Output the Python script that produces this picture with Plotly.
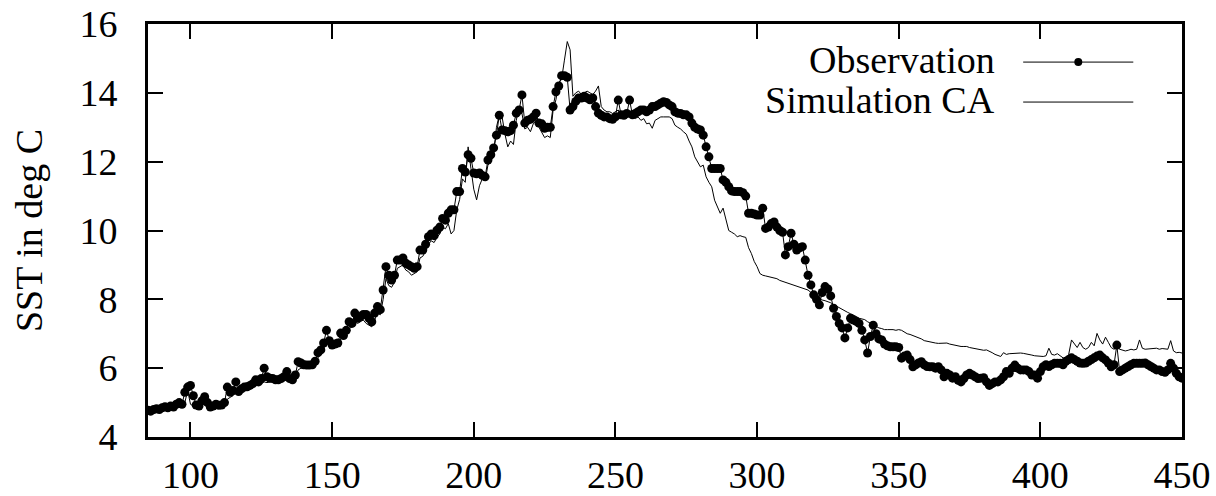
import plotly.graph_objects as go

# Day of year
days = list(range(85, 451))

# Observed SST (deg C), one value per day 85..450
obs_sst = [
    4.78, 4.75, 4.8, 4.82, 4.8, 4.85, 4.88, 4.85, 4.9, 4.87,
    4.95, 5.0, 4.95, 5.3, 5.45, 5.5, 5.2, 4.93, 4.9, 5.05,
    5.17, 5.0, 4.87, 4.9, 4.95, 4.92, 4.93, 5.0, 5.45, 5.3,
    5.35, 5.6, 5.32, 5.4, 5.45, 5.46, 5.5, 5.55, 5.66, 5.6,
    5.7, 6.0, 5.75, 5.71, 5.7, 5.66, 5.66, 5.7, 5.75, 5.9,
    5.7, 5.66, 5.8, 6.19, 6.15, 6.1, 6.09, 6.09, 6.1, 6.2,
    6.45, 6.53, 6.73, 7.1, 6.8, 6.67, 6.7, 6.73, 7.02, 6.95,
    7.1, 7.35, 7.3, 7.6, 7.45, 7.5, 7.56, 7.56, 7.45, 7.35,
    7.6, 7.79, 7.7, 8.27, 8.95, 8.7, 8.56, 8.7, 9.14, 9.14,
    9.2, 9.05, 9.0, 8.95, 8.9, 8.95, 9.43, 9.43, 9.6, 9.82,
    9.9, 9.85, 10.01, 10.1, 10.35, 10.3, 10.5, 10.6, 10.6, 11.13,
    11.13, 11.8, 11.7, 12.2, 12.1, 11.67, 11.65, 11.67, 11.6, 11.56,
    12.05, 12.2, 12.4, 12.77, 13.35, 12.92, 12.9, 12.87, 12.9, 13.06,
    13.41, 13.5, 13.94, 13.12, 13.2, 13.23, 13.3, 13.41, 13.12, 13.1,
    12.97, 13.0, 13.0, 13.6, 14.03, 14.2, 14.5, 14.5, 14.45, 13.5,
    13.6, 13.75, 13.85, 13.85, 13.9, 13.85, 13.8, 13.85, 13.6, 13.41,
    13.35, 13.3, 13.3, 13.25, 13.23, 13.3, 13.79, 13.36, 13.35, 13.4,
    13.79, 13.36, 13.4, 13.45, 13.5, 13.5, 13.45, 13.5, 13.6, 13.6,
    13.65, 13.7, 13.74, 13.72, 13.65, 13.6, 13.45, 13.41, 13.4, 13.36,
    13.36, 13.3, 13.12, 13.0, 12.95, 12.92, 12.77, 12.43, 12.14, 11.8,
    11.8, 11.8, 11.8, 11.47, 11.4, 11.27, 11.15, 11.13, 11.13, 11.13,
    11.1, 11.0, 10.5, 10.5, 10.48, 10.45, 10.45, 10.65, 10.06, 10.1,
    10.2, 10.25, 10.1, 10.0, 9.95, 9.29, 9.53, 9.92, 9.6, 9.43,
    9.5, 9.53, 9.14, 8.7, 8.42, 8.13, 8.0, 7.84, 8.2, 8.37,
    8.3, 8.1, 7.74, 7.5, 7.3, 7.17, 6.88, 7.17, 7.45, 7.4,
    7.36, 7.3, 7.1, 6.82, 6.44, 6.92, 7.25, 7.0, 6.85, 6.82,
    6.7, 6.65, 6.62, 6.62, 6.62, 6.6, 6.29, 6.35, 6.38, 6.25,
    6.04, 6.1, 6.15, 6.19, 6.1, 6.05, 6.04, 6.04, 6.0, 6.04,
    5.95, 5.75, 5.85, 5.8, 5.71, 5.75, 5.65, 5.6, 5.7, 5.8,
    5.85, 5.8, 5.75, 5.7, 5.71, 5.72, 5.6, 5.5, 5.55, 5.6,
    5.6, 5.66, 5.75, 5.9, 5.85, 6.0, 6.09, 6.0, 5.95, 5.95,
    5.95, 5.9, 5.8, 5.8, 5.71, 5.9, 6.04, 6.1, 6.05, 6.1,
    6.14, 6.14, 6.14, 6.1, 6.2, 6.25, 6.3, 6.25, 6.2, 6.15,
    6.14, 6.15, 6.2, 6.25, 6.3, 6.35, 6.38, 6.3, 6.24, 6.15,
    6.04, 6.1, 6.67, 5.9, 5.95, 6.0, 6.05, 6.1, 6.14, 6.14,
    6.14, 6.14, 6.15, 6.1, 6.05, 6.0, 5.95, 5.95, 5.9, 5.88,
    5.95, 6.14, 6.0, 5.85, 5.75, 5.71,
]

# Simulated SST (CA model), one value per day 85..450
sim_sst = [
    4.7, 4.68, 4.72, 4.75, 4.73, 4.78, 4.8, 4.76, 4.82, 4.8,
    4.85, 4.9, 4.88, 5.0, 5.35, 4.95, 4.9, 4.85, 4.82, 4.9,
    5.0, 4.9, 4.85, 4.88, 4.9, 4.92, 4.95, 5.0, 5.1, 5.15,
    5.2, 5.3, 5.25, 5.3, 5.35, 5.4, 5.42, 5.45, 5.5, 5.5,
    5.55, 5.6, 5.58, 5.6, 5.62, 5.6, 5.62, 5.65, 5.7, 5.72,
    5.7, 5.68, 5.75, 5.95, 6.0, 6.0, 6.05, 6.0, 6.05, 6.15,
    6.3, 6.4, 6.55, 6.8, 6.65, 6.6, 6.62, 6.65, 6.85, 6.9,
    7.0, 7.15, 7.2, 7.35, 7.3, 7.35, 7.4, 7.3, 7.25, 7.2,
    7.4, 7.6, 7.55, 8.0, 8.6, 8.4, 8.35, 8.5, 8.9, 8.95,
    9.0, 8.85, 8.8, 8.7, 8.75, 8.8, 9.2, 9.25, 9.4, 9.6,
    9.7, 9.65, 9.8, 9.9, 10.1, 10.05, 10.2, 9.9, 10.0, 10.6,
    10.9, 11.5, 11.4, 12.43, 11.8, 11.2, 10.89, 11.3, 11.5, 11.45,
    11.9, 12.0, 12.2, 13.0, 13.35, 13.3, 12.8, 12.43, 12.6, 12.5,
    13.2, 13.6, 13.4, 12.95, 13.0, 12.87, 13.1, 13.2, 13.0, 12.85,
    12.7, 12.75, 12.7, 13.5, 13.8, 14.3, 14.4, 14.95, 15.49, 15.25,
    13.9, 14.0, 14.05, 13.95, 14.0, 14.05, 14.0, 13.95, 14.05, 14.2,
    13.6, 13.5, 13.45, 13.45, 13.4, 13.45, 13.5, 13.35, 13.4, 13.35,
    13.4, 13.3, 13.25, 13.3, 13.2, 13.25, 13.1, 13.12, 12.97, 13.2,
    13.25, 13.3, 13.3, 13.3, 13.3, 13.25, 13.06, 13.0, 12.95, 12.87,
    12.8, 12.6, 12.43, 12.14, 12.0, 11.85, 11.9, 11.56, 11.4, 11.27,
    10.88, 10.69, 10.5, 10.65, 10.3, 10.0, 9.95, 9.9, 9.82, 9.85,
    9.82, 9.8, 9.5, 9.33, 9.1, 8.95, 8.75, 8.7, 8.68, 8.66,
    8.66, 8.62, 8.6, 8.55, 8.52, 8.51, 8.48, 8.45, 8.4, 8.37,
    8.35, 8.32, 8.3, 8.27, 8.2, 8.1, 8.04, 8.0, 7.98, 7.96,
    7.94, 7.9, 7.85, 7.8, 7.75, 7.7, 7.65, 7.62, 7.58, 7.55,
    7.5, 7.45, 7.42, 7.41, 7.35, 7.3, 7.25, 7.2, 7.17, 7.15,
    7.12, 7.12, 7.13, 7.12, 7.1, 7.12, 7.1, 7.05, 7.0, 6.98,
    6.95, 6.92, 6.88, 6.85, 6.8, 6.78, 6.75, 6.73, 6.73, 6.72,
    6.73, 6.72, 6.73, 6.7, 6.68, 6.66, 6.65, 6.63, 6.63, 6.63,
    6.6, 6.58, 6.56, 6.55, 6.53, 6.52, 6.53, 6.5, 6.45, 6.4,
    6.36, 6.34, 6.45, 6.4, 6.42, 6.43, 6.42, 6.44, 6.44, 6.43,
    6.42, 6.4, 6.38, 6.36, 6.35, 6.34, 6.34, 6.36, 6.58, 6.4,
    6.38, 6.42, 6.35, 6.3, 6.24, 6.4, 6.82, 6.7, 6.6, 6.75,
    6.6, 6.55, 6.6, 6.75, 6.65, 7.01, 6.82, 6.7, 6.9, 6.75,
    6.6, 6.55, 6.6, 6.55, 6.53, 6.5, 6.52, 6.55, 6.53, 6.55,
    6.82, 6.58, 6.55, 6.56, 6.58, 6.58, 6.58, 6.55, 6.57, 6.56,
    6.55, 6.8, 6.5, 6.45, 6.46, 6.44,
]

x_ticks = [100, 150, 200, 250, 300, 350, 400, 450]
y_ticks = [4, 6, 8, 10, 12, 14, 16]
series_names = ["Observation", "Simulation CA"]
y_title = "SST in deg C"

FONT = "Liberation Serif, Times New Roman, serif"
FS = 38

fig = go.Figure()
fig.add_trace(go.Scatter(
    x=days, y=sim_sst, mode="lines", name=series_names[1],
    line=dict(color="black", width=1), showlegend=False,
))
fig.add_trace(go.Scatter(
    x=days, y=obs_sst, mode="lines+markers", name=series_names[0],
    line=dict(color="black", width=1),
    marker=dict(color="black", size=9), showlegend=False,
))

axis_common = dict(
    showline=True, linecolor="black", linewidth=3, mirror="ticks",
    ticks="inside", ticklen=15, tickwidth=2, tickcolor="black",
    showgrid=False, zeroline=False,
    tickfont=dict(family=FONT, size=FS, color="black"),
)

fig.update_xaxes(range=[85, 450], tickvals=x_ticks, ticklabelstandoff=2, **axis_common)
fig.update_yaxes(range=[4, 16], tickvals=y_ticks, ticklabelstandoff=20,
                 title=dict(text=y_title, font=dict(family=FONT, size=FS, color="black"), standoff=26),
                 **axis_common)

# Custom gnuplot-style legend (text left, sample right)
leg_text_x = 0.8213
leg_x0, leg_x1, leg_dot = 0.8464, 0.9529, 0.8997
rows_y = [0.9128, 0.816]
for name, yy in zip(series_names, rows_y):
    fig.add_annotation(x=leg_text_x, y=yy, xref="paper", yref="paper", text=name,
                       showarrow=False, xanchor="right", yanchor="middle",
                       font=dict(family=FONT, size=FS, color="black"))
    fig.add_shape(type="line", xref="paper", yref="paper", x0=leg_x0, x1=leg_x1,
                  y0=yy - 0.005, y1=yy - 0.005, line=dict(color="black", width=1))
fig.add_shape(type="circle", xref="paper", yref="paper", xsizemode="pixel", ysizemode="pixel",
              xanchor=leg_dot, yanchor=rows_y[0] - 0.005, x0=-4, x1=4, y0=-4, y1=4,
              fillcolor="black", line=dict(color="black", width=0))

fig.update_layout(
    width=1216, height=496,
    margin=dict(l=148, r=34, t=24, b=59, autoexpand=False),
    paper_bgcolor="white", plot_bgcolor="white",
    font=dict(family=FONT, size=FS, color="black"),
)

fig.write_html("out.html", config={"displayModeBar": False},
               post_script="document.body.style.margin='0';document.body.style.overflow='hidden';")
